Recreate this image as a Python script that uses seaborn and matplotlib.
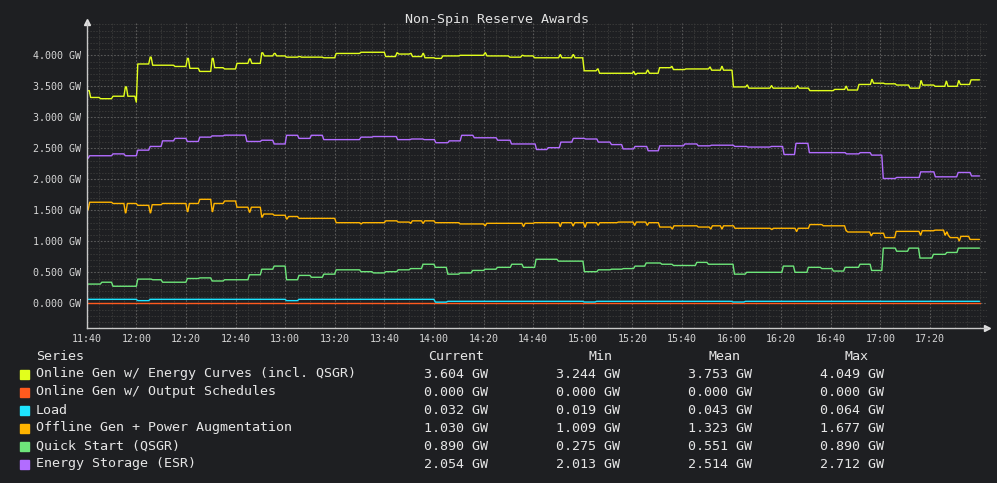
import matplotlib
matplotlib.use("Agg")
import matplotlib.pyplot as plt
from matplotlib.patches import Rectangle
from matplotlib.ticker import FuncFormatter, MultipleLocator
import pandas as pd
import seaborn as sns

# minutes after 11:40 where each series changes level, and the level it moves to
yellow_t = [0, 1, 5, 10, 15, 16, 19.4, 20, 25, 26, 35, 40, 41, 45, 50, 51, 55, 60, 65, 66,
            70, 71, 75, 76, 80, 85, 86, 95, 100, 110, 120, 124.5, 125.3, 130, 130.8, 135,
            135.8, 140, 143, 150, 160, 160.8, 170, 175, 175.8, 180, 190.3, 191, 195.5, 196.3,
            200, 205.4, 206.2, 220, 220.6, 221.4, 225.5, 226.3, 230.4, 235.3, 236, 241, 250.7,
            251.4, 255.5, 256.2, 260.2, 265.7, 266.4, 275.5, 276.2, 286, 286.7, 291, 301,
            305.6, 306.3, 310.8, 316, 316.7, 321.3, 326, 331.4, 335.8, 336.5, 341.5, 346,
            346.7, 351, 351.7, 356]
yellow_v = [3.43, 3.32, 3.30, 3.34, 3.49, 3.34, 3.244, 3.86, 3.97, 3.84, 3.82, 3.95, 3.79, 3.74,
            3.95, 3.80, 3.78, 3.87, 3.94, 3.87, 4.04, 3.99, 4.03, 3.99, 3.97, 3.98, 3.97, 3.96,
            4.03, 4.049, 3.98, 4.04, 4.02, 4.03, 3.98, 4.03, 3.96, 3.95, 3.99, 4.00, 4.04, 3.99,
            3.97, 4.00, 3.99, 3.96, 4.01, 3.96, 4.01, 3.96, 3.75, 3.78, 3.71, 3.74, 3.69, 3.71,
            3.76, 3.71, 3.80, 3.82, 3.77, 3.78, 3.81, 3.76, 3.82, 3.76, 3.49, 3.52, 3.47, 3.51,
            3.47, 3.51, 3.47, 3.43, 3.45, 3.50, 3.44, 3.53, 3.61, 3.55, 3.54, 3.52, 3.47, 3.59,
            3.52, 3.50, 3.58, 3.50, 3.59, 3.53, 3.604]

red_t = [0]
red_v = [0.0]

cyan_t = [0, 20, 25, 80, 85, 140, 145, 200, 205, 260, 265]
cyan_v = [0.064, 0.043, 0.064, 0.043, 0.064, 0.019, 0.032, 0.021, 0.032, 0.021, 0.032]

orange_t = [0, 0.6, 10, 15, 15.8, 20, 25, 25.8, 30, 40, 40.8, 45, 50, 50.8, 55, 60, 65, 65.8,
            70, 70.8, 75, 80, 80.8, 85, 100, 110, 110.7, 120, 125, 130, 130.7, 135, 135.7, 140,
            150, 160, 160.7, 175.5, 176.2, 180, 190.3, 191, 195.5, 196.2, 200.3, 201, 205.6,
            206.3, 213.8, 220.3, 221, 225.4, 226.1, 230.5, 235.5, 236.2, 246, 251, 251.7, 255.5,
            256.2, 260.8, 275.6, 276.3, 285.6, 286.3, 291, 296.4, 305.6, 306.3, 315.7, 316.4,
            321.3, 325.8, 335.6, 336.3, 341.5, 345.5, 346.2, 346.9, 347.6, 351.2, 351.9, 355.6]
orange_v = [1.51, 1.63, 1.61, 1.46, 1.61, 1.58, 1.46, 1.59, 1.61, 1.48, 1.61, 1.677, 1.48, 1.61,
            1.65, 1.55, 1.47, 1.55, 1.39, 1.44, 1.42, 1.36, 1.40, 1.37, 1.30, 1.28, 1.30, 1.33,
            1.31, 1.29, 1.33, 1.29, 1.33, 1.30, 1.28, 1.25, 1.29, 1.24, 1.29, 1.30, 1.24, 1.30,
            1.25, 1.30, 1.23, 1.30, 1.26, 1.30, 1.31, 1.26, 1.31, 1.26, 1.30, 1.23, 1.20, 1.25,
            1.23, 1.20, 1.25, 1.20, 1.25, 1.21, 1.19, 1.21, 1.16, 1.21, 1.27, 1.25, 1.17, 1.15,
            1.09, 1.13, 1.06, 1.16, 1.10, 1.17, 1.18, 1.10, 1.15, 1.09, 1.06, 1.009, 1.08, 1.03]

green_t = [0, 5.5, 10, 20, 26, 30, 40, 45, 50, 55, 65, 70, 75, 80, 85, 90, 95, 100, 110, 115,
           120, 125, 130, 135, 140, 145, 150, 155, 160, 165, 170.8, 175.5, 180.6, 189.6, 200.1,
           205.7, 211, 215.8, 220.5, 225, 231.3, 236, 245.4, 250.1, 260.6, 265.5, 280.3, 285,
           290.4, 295.8, 300.5, 305.2, 311.2, 315.9, 320.6, 326, 331, 335.4, 340.8, 346.2, 350.9]
green_v = [0.31, 0.34, 0.275, 0.39, 0.38, 0.34, 0.40, 0.41, 0.36, 0.38, 0.46, 0.55, 0.60, 0.38,
           0.45, 0.42, 0.47, 0.54, 0.51, 0.49, 0.51, 0.54, 0.56, 0.63, 0.58, 0.47, 0.49, 0.53,
           0.55, 0.58, 0.63, 0.58, 0.71, 0.68, 0.51, 0.54, 0.55, 0.56, 0.60, 0.65, 0.63, 0.61,
           0.66, 0.63, 0.47, 0.50, 0.60, 0.50, 0.58, 0.56, 0.52, 0.58, 0.63, 0.53, 0.89, 0.84,
           0.89, 0.73, 0.79, 0.82, 0.89]

purple_t = [0, 0.6, 10, 15, 20, 25, 30, 35, 40, 45, 50, 55, 64, 70, 75, 80, 85, 90, 95, 110,
            115, 124.8, 130.4, 135.5, 140.2, 145.6, 150.6, 155.7, 165.1, 170.7, 180.8, 185.5,
            190.6, 195.6, 200.6, 205.7, 211, 215.7, 220.5, 225.8, 230.5, 240.6, 246, 251.3,
            260.7, 266, 275.5, 280.6, 285.4, 290.8, 305.8, 311.3, 315.9, 320.6, 326, 335.7,
            341.6, 350.8, 356.2]
purple_v = [2.34, 2.38, 2.41, 2.38, 2.47, 2.53, 2.62, 2.66, 2.61, 2.68, 2.70, 2.712, 2.61, 2.63,
            2.57, 2.71, 2.66, 2.71, 2.64, 2.68, 2.69, 2.64, 2.65, 2.64, 2.59, 2.62, 2.71, 2.67,
            2.63, 2.57, 2.48, 2.51, 2.60, 2.66, 2.65, 2.60, 2.56, 2.49, 2.53, 2.46, 2.54, 2.57,
            2.54, 2.55, 2.53, 2.52, 2.53, 2.40, 2.58, 2.43, 2.41, 2.43, 2.39, 2.013, 2.03, 2.12,
            2.04, 2.11, 2.054]

series_names = ["Online Gen w/ Energy Curves (incl. QSGR)", "Online Gen w/ Output Schedules",
                "Load", "Offline Gen + Power Augmentation", "Quick Start (QSGR)",
                "Energy Storage (ESR)"]
series_colors = ["#e2ff1c", "#ff5a1e", "#1ee4ff", "#ffb400", "#6ee67a", "#b26cff"]

current_txt = ["3.604 GW", "0.000 GW", "0.032 GW", "1.030 GW", "0.890 GW", "2.054 GW"]
min_txt = ["3.244 GW", "0.000 GW", "0.019 GW", "1.009 GW", "0.275 GW", "2.013 GW"]
mean_txt = ["3.753 GW", "0.000 GW", "0.043 GW", "1.323 GW", "0.551 GW", "2.514 GW"]
max_txt = ["4.049 GW", "0.000 GW", "0.064 GW", "1.677 GW", "0.890 GW", "2.712 GW"]

END_MIN = 360
RAMP = 0.6
BG = "#1e1f22"
FG = "#d6d6d6"
W, H = 997, 483


def steps(ts, vs):
    xs, ys = [ts[0]], [vs[0]]
    for t, v in zip(ts[1:], vs[1:]):
        xs += [t, t + RAMP]
        ys += [ys[-1], v]
    xs.append(END_MIN)
    ys.append(ys[-1])
    return xs, ys


def fmt_time(m, _pos=None):
    total = 11 * 60 + 40 + int(round(m))
    return f"{total // 60}:{total % 60:02d}"


sns.set_theme(style="dark", rc={"axes.facecolor": BG, "figure.facecolor": BG})
plt.rcParams["font.family"] = ["DejaVu Sans Mono", "DejaVu Sans"]

rows = []
for name, (ts, vs) in zip(series_names, [(yellow_t, yellow_v), (red_t, red_v), (cyan_t, cyan_v),
                                          (orange_t, orange_v), (green_t, green_v),
                                          (purple_t, purple_v)]):
    xs, ys = steps(ts, vs)
    rows += [{"t": x, "gw": y, "series": name} for x, y in zip(xs, ys)]
df = pd.DataFrame(rows)

fig = plt.figure(figsize=(W / 100, H / 100), dpi=100)
ax = fig.add_axes([86.7 / W, 1 - 328.3 / H, 900.3 / W, 306.3 / H])

sns.lineplot(data=df, x="t", y="gw", hue="series", hue_order=series_names,
             palette=dict(zip(series_names, series_colors)), estimator=None, sort=False,
             legend=False, lw=1.0, ax=ax)

ax.set_xlim(0, 900.3 / 2.48)
ax.set_ylim(-25 / 62, 281.3 / 62)
ax.xaxis.set_major_locator(MultipleLocator(20))
ax.xaxis.set_minor_locator(MultipleLocator(5))
ax.yaxis.set_major_locator(MultipleLocator(0.5))
ax.yaxis.set_minor_locator(MultipleLocator(0.1))
ax.xaxis.set_major_formatter(FuncFormatter(fmt_time))
ax.yaxis.set_major_formatter(FuncFormatter(lambda v, _p: f"{v:.3f} GW"))
ax.set_xticks([t for t in range(0, 341, 20)])
ax.set_yticks([i * 0.5 for i in range(9)])

ax.grid(which="major", color="#5a5a5a", linestyle=(0, (1.5, 1.5)), lw=0.8)
ax.grid(which="minor", color="#383838", linestyle=(0, (1.5, 1.5)), lw=0.7)
ax.set_axisbelow(True)

ax.tick_params(axis="both", which="major", labelcolor=FG, labelsize=7.2,
               length=0, bottom=True, left=True, pad=4.2)
ax.tick_params(which="minor", length=0)
ax.set_xlabel("")
ax.set_ylabel("")
for side in ["top", "right"]:
    ax.spines[side].set_visible(False)
for side in ["left", "bottom"]:
    ax.spines[side].set_visible(True)
    ax.spines[side].set_color("#c8c8c8")
    ax.spines[side].set_linewidth(1.0)
ax.plot(1, 0, ">", transform=ax.transAxes, clip_on=False, color="#e0e0e0", ms=4)
ax.plot(0, 1, "^", transform=ax.transAxes, clip_on=False, color="#e0e0e0", ms=4)

fig.text(497 / W, 1 - 19 / H, "Non-Spin Reserve Awards", ha="center", va="center",
         color="#e2e2e2", fontsize=9.6)

# legend table
col_header = [("Current", 456), ("Min", 600), ("Mean", 724), ("Max", 856)]
col_vals = [(current_txt, 456), (min_txt, 588), (mean_txt, 720), (max_txt, 852)]
fig.text(36 / W, 1 - 356 / H, "Series", ha="left", va="center", color="#e6e6e6", fontsize=9.6)
for label, cx in col_header:
    fig.text(cx / W, 1 - 356 / H, label, ha="center", va="center", color="#e6e6e6",
             fontsize=9.6)
for i, (name, color) in enumerate(zip(series_names, series_colors)):
    yc = 374 + 18 * i
    fig.patches.append(Rectangle((20 / W, 1 - (yc + 4.5) / H), 9 / W, 9 / H, color=color,
                                 transform=fig.transFigure, figure=fig))
    fig.text(36 / W, 1 - yc / H, name, ha="left", va="center", color="#e6e6e6", fontsize=9.6)
    for vals, cx in col_vals:
        fig.text(cx / W, 1 - yc / H, vals[i], ha="center", va="center", color="#e6e6e6",
                 fontsize=9.6)

fig.savefig("out.png", dpi=100, facecolor=BG)
